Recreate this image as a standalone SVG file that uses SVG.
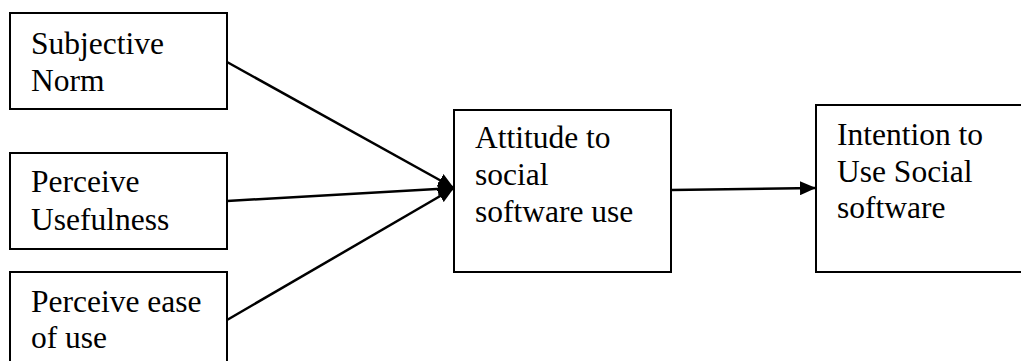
<svg xmlns="http://www.w3.org/2000/svg" width="1021" height="361" viewBox="0 0 1021 361">
<style>
.box{fill:#fff;stroke:#000;stroke-width:2}
.t{font-family:"Liberation Serif","Times New Roman",serif;font-size:31.5px;fill:#000}
.c{stroke:#000;stroke-width:2.5;fill:none}
</style>
<defs>
<marker id="ah" markerWidth="16" markerHeight="14" refX="16" refY="7" orient="auto" markerUnits="userSpaceOnUse">
<path d="M0,0 L16,7 L0,14 Z" fill="#000"/>
</marker>
</defs>
<rect width="1021" height="361" fill="#fff"/>
<g id="n1"><rect class="box" x="10" y="13" width="217" height="96"/>
<text class="t" x="31" y="54">Subjective</text><text class="t" x="31" y="91">Norm</text></g>
<g id="n2"><rect class="box" x="10" y="153" width="217" height="96"/>
<text class="t" x="31" y="192">Perceive</text><text class="t" x="31" y="230">Usefulness</text></g>
<g id="n3"><rect class="box" x="10" y="272" width="217" height="100"/>
<text class="t" x="31" y="312">Perceive ease</text><text class="t" x="31" y="348">of use</text></g>
<g id="n4"><rect class="box" x="454" y="110" width="217" height="162"/>
<text class="t" x="475" y="148">Attitude to</text><text class="t" x="475" y="185">social</text><text class="t" x="475" y="222">software use</text></g>
<g id="n5"><rect class="box" x="816" y="105" width="220" height="167"/>
<text class="t" x="837" y="145">Intention to</text><text class="t" x="837" y="182">Use Social</text><text class="t" x="837" y="218">software</text></g>
<g id="connectors">
<line class="c" x1="227" y1="62" x2="454" y2="188" marker-end="url(#ah)"/>
<line class="c" x1="227" y1="201" x2="454" y2="188" marker-end="url(#ah)"/>
<line class="c" x1="227" y1="320" x2="454" y2="188" marker-end="url(#ah)"/>
<line class="c" x1="671" y1="190" x2="816" y2="188" marker-end="url(#ah)"/>
</g>
</svg>
